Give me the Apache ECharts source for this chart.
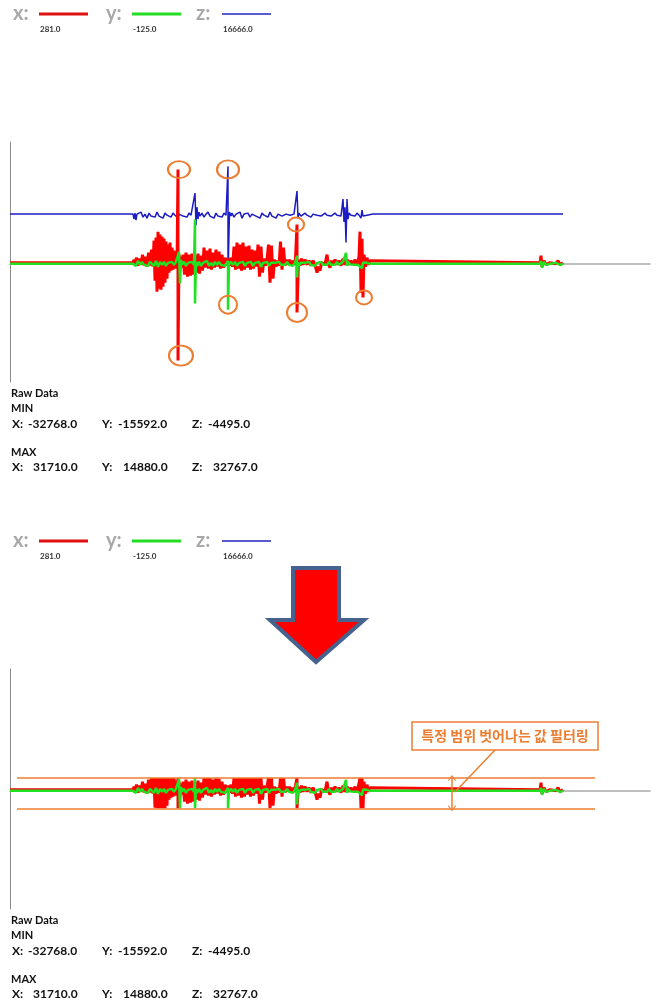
<!DOCTYPE html>
<html>
<head>
<meta charset="utf-8">
<script src="https://cdn.jsdelivr.net/npm/echarts@6/dist/echarts.min.js"></script>
<style>
  html, body { margin: 0; padding: 0; background: #ffffff; }
  #chart { width: 661px; height: 1005px; }
</style>
</head>
<body>
<div id="chart"></div>
<script>
// Accelerometer channels: [sample index, raw value]
const channelNames = ['x', 'y', 'z'];
const currentValues = [281.0, -125.0, 16666.0];

const xSamples = [
  [0,281],[123,281],
  [124,1290],[125,-400],[126.5,1970],[128,-730],[129.5,1630],[131,-400],[132.5,2980],[134,-730],[135.5,2300],[137,-1070],[138.5,3650],[140,-730],[141.5,4670],[143,-1070],
  [144,7700],[145,-5800],[146,8720],[147,-9510],[148,10740],[149,-8500],[150,9730],[151,-8830],[152,9060],[153,-7820],[154,8380],[155,-6470],[156,7370],[157,-5120],[158,6350],[159,-3100],[160,7030],[161,-2420],[162,5340],[163,-2080],[164,4330],[165,-1750],[166,3320],[167,-1070],
  [168,31710],[168,-32768],
  [169,2980],[170,-1750],[171,2300],[172,-1410],[173,2980],[174.5,-3770],[176,3650],[177.5,-4440],[179,2980],[180.5,-4110],[182,3320],[183.5,-3770],[185,2640],[186.5,-3100],[188,3320],[189.5,-3430],[191,2640],[192.5,-2420],
  [194,5340],[195.5,-1410],[197,4330],[198.5,-1750],[200,5000],[201.5,-2080],[203,3650],[204.5,-1410],[206,4670],[207.5,-1070],[209,3990],[210.5,-1750],[212,2980],[213.5,-1410],[215,1970],[216.5,-730],[218,1630],[219.5,-730],[221,1970],[222.5,-1070],
  [224,5680],[225.5,-2080],[227,7030],[228.5,-1750],[230,6350],[231.5,-2420],[233,7030],[234.5,-2080],[236,5680],[237.5,-1410],[239,6020],[240.5,-2080],[242,4670],[243.5,-1750],[245,4330],[246.5,-1070],
  [248,6350],[249.5,-4440],[251,5680],[252.5,-3100],[254,1630],[255.5,-730],[257,1290],[258.5,6350],[260,-6470],[261.5,6020],[263,-5120],[264.5,1290],[266,-1070],[267.5,950],[269,-730],[270.5,7370],[272,-2080],[273.5,5340],[275,-730],[276.5,1290],[278,-400],[279.5,1290],[281,-730],[282.5,950],[284,-400],[285.5,1630],
  [287,13160],[287,-16540],
  [288.5,1290],[290,-730],[291.5,1630],[293,-400],[295,1290],[297,-400],[299,950],[301,-730],[303,950],[305,-400],[307,-3100],[308.5,-1070],[310,-2420],[311.5,281],[313,950],[315,-400],[317,2980],[318.5,-400],[320,-1410],[321.5,950],[323,-400],[325,1290],[327,-400],[329,950],[331,-730],[333,1630],[335,-400],[337,1290],[339,-400],[341,950],[343,-400],[345,1290],[347,-730],[349,2300],
  [350,10740],[351,-9850],[352,8380],[353,-11475],[354,2980],[355.5,-1070],[357,1970],[358.5,-400],[360,950],[362,281],
  [530,281],[531,2640],[532,-1070],[534,950],[536,-400],[540,281],[546,-60],[548,950],[550,-400],[553,281]
];

const ySamples = [
  [0,-125],[123,-125],
  [124,210],[126,-800],[128,890],[130,-460],[132,550],[134,-460],[136,210],[138,-800],[140,550],[142,-125],[144,-800],[146,890],[148,-1140],[150,550],[152,-460],[154,550],[156,-800],[158,210],[160,-460],[162,550],[164,-460],[166,550],
  [169,3925],[170,-6750],[171,1200],[172,-300],
  [174,550],[176,-800],[178,210],[180,-460],[182,550],[184,-460],
  [185,14880],[185,-13500],[186,500],[187,-800],
  [189,550],[191,-800],[193,210],[195,-460],[197,890],[199,-800],[201,210],[203,-800],[205,550],[207,-460],[209,550],[211,-460],[213,210],[215,-800],
  [218,890],[218,-15592],[219,-300],
  [221,550],[223,-460],[225,550],[227,-800],[229,210],[231,-460],[233,550],[235,-800],[237,210],[239,-460],[241,550],[243,-800],[245,210],[247,-460],[249,550],[251,-1140],[253,210],[255,-460],[257,550],[259,-800],[261,210],[263,-460],[265,210],[267,-460],[269,550],[271,-460],[273,210],[275,-460],[277,550],[279,-460],[281,210],[283,-800],[285,210],
  [287,2575],[287,-4725],[288,400],[289,-600],
  [291,210],[293,-460],[295,210],[297,-460],[299,550],[301,-460],[303,210],[305,-800],[307,210],[309,-460],[311,550],[313,-460],[315,210],[317,-460],[319,550],[321,-460],[323,210],[325,-460],[327,550],[329,-460],[331,210],[333,550],
  [336,3590],[337,-800],[338,600],[340,-300],[342,210],[344,-460],[346,210],[348,-460],
  [352,-1600],[353,300],[355,-300],[357,210],[360,-125],[362,-125],
  [530,-125],[531,890],[532,-1475],[534,550],[536,-460],[540,-125],[546,210],[548,550],[550,-460],[553,-125]
];

const zSamples = [
  [0,16666],[123,16666],
  [124,15000],[125,17000],[126,14650],[127,16666],[129,16000],[131,17350],[133,15650],[135,16666],[137,15300],[139,17000],[141,16000],[143,16666],[145,15650],[147,17350],[149,16000],[151,16666],[153,15300],[155,17000],[157,16300],[159,16666],[161,15650],[163,17000],[165,16300],[167,16666],[168,15300],[169,16666],[171,17000],[173,16000],[175,16666],[177,15650],[179,17000],[181,16300],[183,16666],
  [185,23756],[186,12950],[187,19000],[188,15000],[189,17350],[190,16000],
  [192,17000],[194,15650],[196,16666],[198,17350],[200,16000],[202,16666],[204,15300],[206,17000],[208,16000],[210,16666],[212,15650],[214,17000],[216,16300],
  [218,32767],[218,-4495],
  [219.5,17350],[221,16000],[222,17000],[224,15650],[226,16666],[228,16000],[230,17350],[232,15300],[234,16666],[236,16000],[238,17000],[240,15650],[242,16666],[244,17000],[246,16000],[248,16666],[250,15300],[252,17000],[254,16300],[256,16666],[258,15650],[260,17350],[262,16000],[264,16666],[266,15300],[268,16666],[270,17000],[272,16000],[274,15650],[276,16666],[278,17000],[280,16300],[282,15650],[284,16666],[286,16300],
  [287,24430],[288,15316],[289,17000],
  [291,16000],[293,16666],[295,17000],[297,16300],[299,16666],[301,15650],[303,16666],[305,17000],[307,16300],[309,16666],[311,16000],[313,16666],[315,17000],[317,16300],[319,16666],[321,16000],[323,16666],[325,17000],[327,16300],[329,16666],[331,16000],
  [333,21730],[334,14000],[335,19000],[336,7080],[337,21730],[338,15000],[339,17000],
  [341,16300],[343,16666],[345,16000],[347,17000],[349,16300],[351,15300],[352,18000],[353,16000],[355,16666],[357,16300],[359,16666],[363,16666],[553,16666]
];

// Spikes singled out with a ring: [sample index, value]
const xPeaks = [[168,31710],[168,-32768],[287,13160],[287,-16540],[353,-11475]];
const yPeaks = [[218,-15592]];
const zPeaks = [[218,32767]];

// Band kept by the filter (values outside are clipped to the edges)
const filterRange = [-6000, 4200];
const filterLabel = '특정 범위 벗어나는 값 필터링';

const ORANGE = '#ED7D31';
const COLORS = ['#ff0000', '#22e022', '#1c1cc4'];
const LEGEND_COLORS = ['#e01010', '#22dd22', '#5a5ad0'];
const FONT = 'Lato, "Noto Sans", sans-serif';

const clip = v => Math.min(filterRange[1], Math.max(filterRange[0], v));
const filtered = arr => arr.map(([t, v]) => [t, clip(v)]);

function stats(arr) {
  const vals = arr.map(p => p[1]);
  return [Math.min(...vals), Math.max(...vals)];
}
const channelStats = [xSamples, ySamples, zSamples].map(stats);

// Ring look; sizes are (width, height) in pixels plus a small nudge
const ringStyle = {
  symbol: 'circle',
  itemStyle: { color: 'rgba(0,0,0,0)', borderColor: ORANGE, borderWidth: 2 },
  label: { show: false },
  silent: true
};
const xRingSizes = [[[22,17],[1,0]], [[24,20],[3,-5]], [[16,14],[-1,0]], [[20,19],[0,0]], [[16,14],[1,0]]];
function rings(peaks, sizes) {
  return Object.assign({}, ringStyle, {
    data: peaks.map((p, i) => ({ coord: p, symbolSize: sizes[i][0], symbolOffset: sizes[i][1] }))
  });
}

function legendBlock(top) {
  const cols = [13, 106, 196];
  const out = [];
  channelNames.forEach((name, i) => {
    const x0 = cols[i];
    out.push({ type: 'text', left: x0, top: top - 10, silent: true,
      style: { text: name + ':', font: 'bold 20px ' + FONT, fill: '#a8a8a8' } });
    out.push({ type: 'line', silent: true,
      shape: { x1: x0 + 26, y1: top, x2: x0 + 75, y2: top },
      style: { stroke: LEGEND_COLORS[i], lineWidth: i === 2 ? 2 : 3 } });
    out.push({ type: 'text', left: x0 + 27, top: top + 11, silent: true,
      style: { text: currentValues[i].toFixed(1), font: 'bold 8px ' + FONT, fill: '#333' } });
  });
  return out;
}

function rawBlock(top) {
  const out = [];
  const add = (x, y, text, size) => out.push({ type: 'text', left: x, top: y, silent: true,
    style: { text, font: 'bold ' + size + 'px ' + FONT, fill: '#111' } });
  add(11, top, 'Raw Data', 11);
  add(11, top + 15, 'MIN', 11);
  add(11, top + 59, 'MAX', 11);
  const cols = [12, 102, 192];
  const labels = ['X:', 'Y:', 'Z:'];
  channelStats.forEach((s, i) => {
    add(cols[i], top + 30, labels[i], 12);
    add(cols[i] + 16, top + 30, s[0].toFixed(1), 12);
    add(cols[i], top + 73, labels[i], 12);
    add(cols[i] + 16 + (s[1] >= 0 ? 5 : 0), top + 73, s[1].toFixed(1), 12);
  });
  return out;
}

const T_MAX = 640, Y_MIN = -40000, Y_MAX = 41000;
const gridTops = [142, 669];

const option = {
  animation: false,
  backgroundColor: '#ffffff',
  grid: gridTops.map(top => ({ left: 10, width: 640, top, height: 240 })),
  xAxis: gridTops.map((_, i) => ({
    type: 'value', gridIndex: i, min: 0, max: T_MAX,
    axisLine: { show: true, onZero: true, lineStyle: { color: '#a9a9a9', width: 1.5 } },
    axisTick: { show: false }, axisLabel: { show: false }, splitLine: { show: false }
  })),
  yAxis: gridTops.map((_, i) => ({
    type: 'value', gridIndex: i, min: Y_MIN, max: Y_MAX,
    axisLine: { show: true, onZero: false, lineStyle: { color: '#8c8c8c', width: 1 } },
    axisTick: { show: false }, axisLabel: { show: false }, splitLine: { show: false }
  })),
  series: [
    { name: 'z', type: 'line', xAxisIndex: 0, yAxisIndex: 0, data: zSamples,
      showSymbol: false, silent: true, lineStyle: { color: COLORS[2], width: 1.5 },
      markPoint: rings(zPeaks, [[[22,18],[0,3]]]) },
    { name: 'x', type: 'line', xAxisIndex: 0, yAxisIndex: 0, data: xSamples,
      showSymbol: false, silent: true, lineStyle: { color: COLORS[0], width: 3 },
      markPoint: rings(xPeaks, xRingSizes) },
    { name: 'y', type: 'line', xAxisIndex: 0, yAxisIndex: 0, data: ySamples,
      showSymbol: false, silent: true, lineStyle: { color: COLORS[1], width: 2.5 },
      markPoint: rings(yPeaks, [[[18,18],[0,-5]]]) },

    { name: 'x filtered', type: 'line', xAxisIndex: 1, yAxisIndex: 1, data: filtered(xSamples),
      showSymbol: false, silent: true, lineStyle: { color: COLORS[0], width: 3 } },
    { name: 'y filtered', type: 'line', xAxisIndex: 1, yAxisIndex: 1, data: filtered(ySamples),
      showSymbol: false, silent: true, lineStyle: { color: COLORS[1], width: 2.5 },
      markLine: {
        silent: true, symbol: 'none', label: { show: false },
        lineStyle: { color: ORANGE, width: 1.5, type: 'solid' },
        data: [
          [{ coord: [7, filterRange[1]] }, { coord: [585, filterRange[1]] }],
          [{ coord: [7, filterRange[0]] }, { coord: [585, filterRange[0]] }],
          [{ coord: [442, filterRange[1]], symbol: 'path://M0,8 L5,0 L10,8 L9,9 L5,2.4 L1,9 Z', symbolSize: [8, 6] },
           { coord: [442, filterRange[0]], symbol: 'path://M0,8 L5,0 L10,8 L9,9 L5,2.4 L1,9 Z', symbolSize: [8, 6] }],
          [{ coord: [485, 13670] }, { coord: [445, -500] }]
        ]
      } }
  ],
  graphic: [
    ...legendBlock(14),
    ...rawBlock(388),
    ...legendBlock(541),
    {
      type: 'polygon', silent: true,
      shape: { points: [[293,568],[339,568],[339,620],[364,620],[316,662],[270,620],[293,620]] },
      style: { fill: '#ff0000', stroke: '#46628f', lineWidth: 4, lineJoin: 'miter' }
    },
    {
      type: 'rect', silent: true,
      shape: { x: 412, y: 722, width: 186, height: 28 },
      style: { fill: '#ffffff', stroke: ORANGE, lineWidth: 1.5 }
    },
    {
      type: 'text', silent: true, x: 505, y: 736,
      style: { text: filterLabel, font: 'bold 14px "Noto Sans CJK KR", sans-serif',
        fill: ORANGE, align: 'center', verticalAlign: 'middle' }
    },
    ...rawBlock(915)
  ]
};

const chart = echarts.init(document.getElementById('chart'), null, { renderer: 'canvas' });
chart.setOption(option);
</script>
</body>
</html>
